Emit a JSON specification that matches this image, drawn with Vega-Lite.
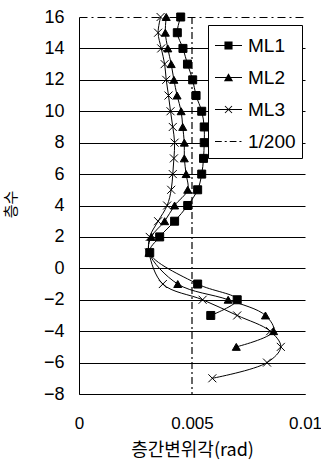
{
  "$schema": "https://vega.github.io/schema/vega-lite/v6.json",
  "width": 226,
  "height": 377,
  "autosize": "none",
  "padding": {"left": 79, "top": 17, "right": 16, "bottom": 74},
  "background": "white",
  "config": {
    "view": {"stroke": null},
    "font": "Liberation Sans"
  },
  "data": {
    "values": [
      {"series": "ML1", "floor": 16, "drift": 0.0045},
      {"series": "ML1", "floor": 15, "drift": 0.00435},
      {"series": "ML1", "floor": 14, "drift": 0.0046},
      {"series": "ML1", "floor": 13, "drift": 0.0048},
      {"series": "ML1", "floor": 12, "drift": 0.00503},
      {"series": "ML1", "floor": 11, "drift": 0.00518},
      {"series": "ML1", "floor": 10, "drift": 0.00543},
      {"series": "ML1", "floor": 9, "drift": 0.00554},
      {"series": "ML1", "floor": 8, "drift": 0.00554},
      {"series": "ML1", "floor": 7, "drift": 0.00551},
      {"series": "ML1", "floor": 6, "drift": 0.00543},
      {"series": "ML1", "floor": 5, "drift": 0.00525},
      {"series": "ML1", "floor": 4, "drift": 0.00481},
      {"series": "ML1", "floor": 3, "drift": 0.00423},
      {"series": "ML1", "floor": 2, "drift": 0.00357},
      {"series": "ML1", "floor": 1, "drift": 0.00313},
      {"series": "ML1", "floor": -1, "drift": 0.00525},
      {"series": "ML1", "floor": -2, "drift": 0.0070},
      {"series": "ML1", "floor": -3, "drift": 0.00583},
      {"series": "ML2", "floor": 16, "drift": 0.00386},
      {"series": "ML2", "floor": 15, "drift": 0.00382},
      {"series": "ML2", "floor": 14, "drift": 0.00393},
      {"series": "ML2", "floor": 13, "drift": 0.00408},
      {"series": "ML2", "floor": 12, "drift": 0.0042},
      {"series": "ML2", "floor": 11, "drift": 0.00434},
      {"series": "ML2", "floor": 10, "drift": 0.00452},
      {"series": "ML2", "floor": 9, "drift": 0.00459},
      {"series": "ML2", "floor": 8, "drift": 0.00466},
      {"series": "ML2", "floor": 7, "drift": 0.00466},
      {"series": "ML2", "floor": 6, "drift": 0.00474},
      {"series": "ML2", "floor": 5, "drift": 0.00481},
      {"series": "ML2", "floor": 4, "drift": 0.00423},
      {"series": "ML2", "floor": 3, "drift": 0.00379},
      {"series": "ML2", "floor": 2, "drift": 0.0032},
      {"series": "ML2", "floor": 1, "drift": 0.0031},
      {"series": "ML2", "floor": -1, "drift": 0.00437},
      {"series": "ML2", "floor": -2, "drift": 0.0066},
      {"series": "ML2", "floor": -3, "drift": 0.00825},
      {"series": "ML2", "floor": -4, "drift": 0.00861},
      {"series": "ML2", "floor": -5, "drift": 0.00696},
      {"series": "ML3", "floor": 16, "drift": 0.00361},
      {"series": "ML3", "floor": 15, "drift": 0.0035},
      {"series": "ML3", "floor": 14, "drift": 0.00364},
      {"series": "ML3", "floor": 13, "drift": 0.00379},
      {"series": "ML3", "floor": 12, "drift": 0.00386},
      {"series": "ML3", "floor": 11, "drift": 0.00396},
      {"series": "ML3", "floor": 10, "drift": 0.00405},
      {"series": "ML3", "floor": 9, "drift": 0.00415},
      {"series": "ML3", "floor": 8, "drift": 0.00423},
      {"series": "ML3", "floor": 7, "drift": 0.0042},
      {"series": "ML3", "floor": 6, "drift": 0.00415},
      {"series": "ML3", "floor": 5, "drift": 0.00408},
      {"series": "ML3", "floor": 4, "drift": 0.0039},
      {"series": "ML3", "floor": 3, "drift": 0.0035},
      {"series": "ML3", "floor": 2, "drift": 0.00313},
      {"series": "ML3", "floor": 1, "drift": 0.0031},
      {"series": "ML3", "floor": -1, "drift": 0.00371},
      {"series": "ML3", "floor": -2, "drift": 0.00547},
      {"series": "ML3", "floor": -3, "drift": 0.0070},
      {"series": "ML3", "floor": -4, "drift": 0.00846},
      {"series": "ML3", "floor": -5, "drift": 0.00893},
      {"series": "ML3", "floor": -6, "drift": 0.00832},
      {"series": "ML3", "floor": -7, "drift": 0.0059},
      {"series": "1/200", "floor": 16, "drift": 0.005},
      {"series": "1/200", "floor": -8, "drift": 0.005}
    ]
  },
  "encoding": {
    "x": {
      "field": "drift",
      "type": "quantitative",
      "scale": {"domain": [0, 0.01], "nice": false, "zero": false},
      "axis": {
        "title": "층간변위각(rad)",
        "titleFont": "Noto Sans CJK KR",
        "titleFontSize": 18,
        "titleFontWeight": "normal",
        "titleColor": "black",
        "titleY": 56,
        "titleBaseline": "middle",
        "values": [0, 0.005, 0.01],
        "format": "~g",
        "labelFont": "Liberation Sans",
        "labelFontSize": 17,
        "labelColor": "black",
        "labelPadding": 21,
        "labelFlush": false,
        "ticks": false,
        "grid": false,
        "domainColor": "black",
        "domainWidth": 1
      }
    },
    "y": {
      "field": "floor",
      "type": "quantitative",
      "scale": {"domain": [-8, 16], "nice": false, "zero": false},
      "axis": {
        "title": "층수",
        "titleFont": "Noto Sans CJK KR",
        "titleFontSize": 15,
        "titleFontWeight": "normal",
        "titleColor": "black",
        "titleX": -69,
        "titleY": 187,
        "titleBaseline": "middle",
        "values": [-8, -6, -4, -2, 0, 2, 4, 6, 8, 10, 12, 14, 16],
        "labelFont": "Liberation Sans",
        "labelFontSize": 18,
        "labelColor": "black",
        "labelPadding": 15,
        "labelFlush": false,
        "ticks": false,
        "grid": true,
        "gridColor": "black",
        "gridOpacity": 1,
        "gridWidth": 1,
        "gridDash": {"condition": {"test": "datum.value == 16", "value": [8, 4, 2, 4]}, "value": []},
        "domainColor": "black",
        "domainWidth": 1
      }
    }
  },
  "resolve": {"scale": {"shape": "independent"}},
  "layer": [
    {
      "transform": [{"filter": "datum.series != '1/200'"}],
      "mark": {"type": "line", "interpolate": "catmull-rom", "stroke": "black", "strokeWidth": 1},
      "encoding": {
        "detail": {"field": "series"},
        "order": {"field": "floor", "sort": "descending"}
      }
    },
    {
      "transform": [{"filter": "datum.series == '1/200'"}],
      "mark": {"type": "line", "stroke": "black", "strokeWidth": 1.2, "strokeDash": [7, 3, 2, 3]},
      "encoding": {
        "order": {"field": "floor", "sort": "descending"}
      }
    },
    {
      "transform": [{"filter": "datum.series != '1/200'"}],
      "mark": {"type": "point", "filled": true, "fill": "black", "stroke": "black", "strokeWidth": 1, "opacity": 1},
      "encoding": {
        "shape": {
          "field": "series",
          "type": "nominal",
          "scale": {
            "domain": ["ML1", "ML2", "ML3"],
            "range": ["square", "triangle-up", "M-1,-1L1,1M-1,1L1,-1"]
          },
          "legend": null
        },
        "size": {"value": 64}
      }
    },
    {
      "transform": [{"filter": "datum.series != '1/200'"}],
      "mark": {"type": "point", "filled": true, "color": "black", "opacity": 0},
      "encoding": {
        "shape": {
          "field": "series",
          "type": "nominal",
          "scale": {
            "domain": ["ML1", "ML2", "ML3", "1/200"],
            "range": [
              "M-1,-0.037H1V0.037H-1ZM-0.3,-0.3H0.3V0.3H-0.3Z",
              "M-1,-0.037H1V0.037H-1ZM0,-0.32L0.34,0.28L-0.34,0.28Z",
              "M-1,-0.037H1V0.037H-1ZM-0.234,-0.286L0.286,0.234L0.234,0.286L-0.286,-0.234ZM-0.286,0.234L0.234,-0.286L0.286,-0.234L-0.234,0.286Z",
              "M-1,-0.037H-0.5V0.037H-1ZM-0.28,-0.037H-0.13V0.037H-0.28ZM0.09,-0.037H0.59V0.037H0.09ZM0.81,-0.037H0.96V0.037H0.81Z"
            ]
          },
          "legend": {
            "title": null,
            "orient": "none",
            "legendX": 129,
            "legendY": 8,
            "padding": 6,
            "strokeColor": "black",
            "fillColor": "white",
            "symbolSize": 729,
            "symbolOpacity": 1,
            "labelFont": "Liberation Sans",
            "labelFontSize": 19,
            "labelColor": "black",
            "labelOffset": 5,
            "rowPadding": 7
          }
        },
        "size": {"value": 729}
      }
    }
  ]
}
